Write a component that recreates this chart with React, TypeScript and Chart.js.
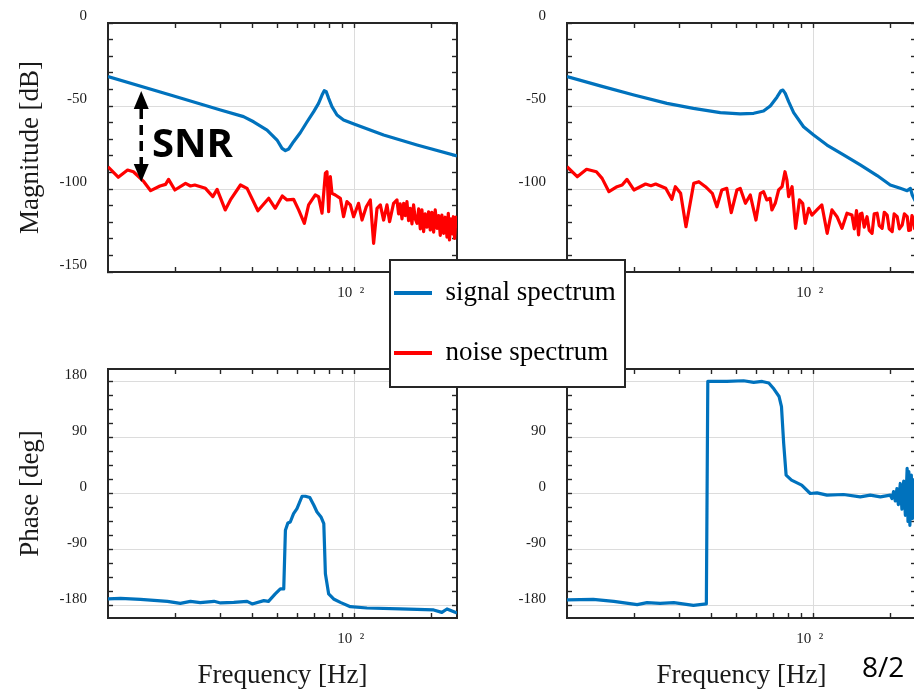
import React, { useEffect, useRef } from 'react';
import { Chart, registerables } from 'chart.js';

Chart.register(...registerables);

// ---------- axes ----------
const FREQ_MIN = 10.9;
const FREQ_MAX = 252;
const FREQ_TICKS = [20, 30, 40, 50, 60, 70, 80, 90, 100, 200];
const FREQ_GRID = [100];
const FREQ_LABEL_VALUES = [100];
const FREQ_LABEL_TEXT = ['10  \u00B2'];

const MAG_MIN = -150;
const MAG_MAX = 0;
const MAG_TICKS = [-150, -140, -130, -120, -110, -100, -90, -80, -70, -60, -50, -40, -30, -20, -10, 0];
const MAG_GRID = [-150, -100, -50, 0];
const MAG_LABEL_VALUES = [-150, -100, -50, 0];
const MAG_LABEL_TEXT = ['-150', '-100', '-50', '0'];

const PHASE_MIN = -200;
const PHASE_MAX = 200;
const PHASE_TICKS = [-180, -157.5, -135, -112.5, -90, -67.5, -45, -22.5, 0, 22.5, 45, 67.5, 90, 112.5, 135, 157.5, 180];
const PHASE_GRID = [-180, -90, 0, 90, 180];
const PHASE_LABEL_VALUES = [-180, -90, 0, 90, 180];
const PHASE_LABEL_TEXT = ['-180', '-90', '0', '90', '180'];

const SIGNAL_LABEL = 'signal spectrum';
const NOISE_LABEL = 'noise spectrum';

// ---------- data: left column ----------
const SIG_L_FREQ = [10.9, 19.7, 30.0, 36.9, 40.4, 45.6, 49.9, 52.2, 53.8, 55.4, 57.9, 61.5, 65.4, 69.4, 72.5, 74.8, 76.3, 77.7, 79.4, 81.8, 85.6, 90.8, 100.3, 130.2, 175.9, 252];
const SIG_L_DB = [-32.3, -44.0, -52.4, -56.4, -59.5, -64.5, -70.5, -75.5, -76.9, -75.9, -71.5, -66.1, -59.5, -53.4, -48.4, -43.4, -40.8, -41.4, -45.4, -50.4, -55.4, -58.4, -61.0, -67.5, -73.5, -80.1];

const NOISE_L_FREQ = [10.9, 11.95, 13.0, 13.7, 15.05, 16.0, 17.4, 18.3, 18.8, 19.9, 21.9, 22.9, 23.8, 26.2, 28.0, 29.1, 31.3, 32.8, 35.9, 38.1, 42.0, 46.3, 49.1, 52.3, 54.6, 57.9, 60.6, 63.8, 66.3, 70.4, 72.5, 74.8, 77.1, 78.2, 79.4, 80.6, 81.8, 84.3, 88.2, 90.8, 93.6, 96.5, 99.4, 103.9, 107.2, 111.4, 115.5, 119.0, 122.7, 126.4, 130.2, 134.2, 137.4, 142.4, 146.8, 149.0, 151.2, 153.6, 156.0, 158.2, 160.6, 163.0, 165.5, 168.0, 170.5, 173.1, 175.9, 178.5, 181.1, 183.8, 186.6, 189.4, 192.3, 195.2, 198.1, 201.0, 204.2, 207.2, 210.6, 213.7, 216.8, 220.0, 223.4, 226.7, 230.3, 233.0, 235.5, 238.5, 241.4, 244.0, 246.7, 249.5, 252];
const NOISE_L_DB = [-86.6, -92.9, -88.6, -89.6, -95.6, -101.0, -98.2, -97.2, -94.2, -100.6, -96.6, -98.2, -97.6, -99.6, -104.6, -100.2, -112.6, -106.6, -97.6, -99.6, -113.1, -105.6, -111.6, -104.2, -106.6, -106.2, -112.6, -120.7, -109.6, -103.6, -104.6, -114.6, -90.5, -89.6, -113.7, -92.6, -102.6, -103.6, -105.6, -116.7, -107.6, -109.6, -116.7, -108.6, -118.7, -110.7, -106.6, -132.7, -111.6, -109.6, -118.7, -109.6, -119.7, -108.6, -106.6, -115.0, -109.0, -118.0, -108.6, -116.0, -107.6, -119.0, -111.6, -121.0, -109.6, -118.0, -120.7, -112.0, -124.0, -112.6, -125.7, -115.0, -123.0, -113.7, -124.7, -114.0, -126.0, -112.6, -123.7, -116.0, -128.0, -115.7, -126.7, -117.0, -129.0, -114.6, -130.7, -118.0, -127.0, -116.7, -129.7, -117.0, -124.0];

const PHASE_L_FREQ = [10.9, 12.2, 14.6, 18.6, 20.9, 22.9, 25.0, 28.3, 30.0, 33.8, 38.1, 39.9, 44.3, 46.2, 49.1, 51.4, 53.0, 53.8, 55.0, 56.2, 57.9, 59.7, 62.5, 64.4, 67.0, 69.5, 71.5, 74.1, 76.0, 77.1, 79.4, 83.0, 88.2, 96.5, 112.1, 151.2, 204.2, 219.9, 230.3, 252];
const PHASE_L_DEG = [-169.4, -168.4, -170.0, -173.2, -176.5, -173.2, -175.3, -173.2, -175.8, -174.9, -173.2, -177.4, -172.1, -173.2, -161.3, -153.2, -153.2, -59.2, -47.4, -45.8, -32.3, -24.2, -4.4, -4.4, -6.5, -18.9, -29.7, -37.7, -48.4, -129.0, -161.3, -169.4, -174.9, -181.8, -183.9, -185.5, -187.1, -191.0, -185.5, -191.9];

// ---------- data: right column ----------
const SIG_R_FREQ = [10.9, 14.7, 19.9, 26.8, 34.0, 43.3, 51.8, 58.5, 63.9, 67.9, 72.1, 74.8, 76.1, 77.7, 80.1, 83.8, 91.6, 100.3, 113.1, 131.3, 152.6, 177.6, 199.9, 218.8, 232.7, 239.7, 243.6, 249.1, 252];
const SIG_R_DB = [-32.3, -37.9, -43.4, -48.4, -51.4, -54.0, -54.8, -54.4, -53.0, -50.0, -44.7, -40.8, -40.4, -42.4, -47.4, -54.0, -62.5, -67.5, -73.5, -79.5, -85.5, -91.9, -97.6, -99.6, -101.0, -99.6, -103.6, -106.6, -108];

const NOISE_R_FREQ = [10.9, 11.95, 13.0, 14.2, 14.95, 15.9, 17.1, 17.9, 18.7, 19.9, 22.1, 23.2, 24.2, 26.5, 28.0, 28.9, 30.3, 31.8, 34.1, 35.7, 37.9, 40.3, 42.0, 43.9, 45.9, 47.8, 50.3, 51.8, 54.3, 56.7, 59.7, 62.1, 63.9, 65.8, 67.8, 68.9, 71.0, 73.2, 75.5, 77.5, 78.9, 80.1, 82.6, 85.3, 88.3, 90.9, 93.0, 96.0, 98.8, 103.3, 108.0, 113.3, 118.3, 123.8, 129.5, 135.4, 141.6, 144.6, 147.5, 150.3, 152.6, 154.9, 158.2, 162.2, 165.5, 169.7, 173.0, 177.6, 181.0, 185.8, 189.4, 194.4, 198.0, 203.4, 207.0, 212.8, 217.0, 222.6, 227.0, 232.9, 236.0, 239.7, 243.0, 246.5, 249.0, 252];
const NOISE_R_DB = [-86.6, -92.6, -88.1, -89.6, -93.6, -101.6, -98.6, -97.6, -94.2, -100.6, -97.0, -98.0, -97.0, -99.6, -106.2, -98.6, -102.6, -122.7, -96.6, -95.6, -98.6, -102.6, -110.7, -100.6, -99.6, -114.3, -100.6, -99.6, -108.6, -103.6, -118.7, -102.6, -101.6, -106.6, -105.6, -112.6, -108.6, -100.6, -98.6, -89.6, -94.6, -104.6, -98.6, -123.7, -106.6, -108.6, -120.7, -111.6, -115.7, -112.6, -109.6, -126.7, -112.6, -116.7, -123.7, -114.6, -115.7, -124.0, -113.0, -127.7, -115.0, -114.6, -123.0, -116.7, -125.0, -126.7, -115.0, -114.6, -122.0, -123.7, -114.0, -115.7, -124.0, -125.7, -115.0, -116.7, -124.0, -121.7, -115.0, -116.7, -125.0, -124.7, -116.0, -118.7, -124.0, -120];

const PHASE_R_FREQ = [10.9, 13.8, 16.6, 20.5, 22.4, 25.2, 28.5, 34.0, 38.2, 38.7, 45.9, 53.4, 58.5, 63.1, 67.0, 70.2, 73.5, 75.1, 76.6, 78.3, 82.2, 90.1, 97.3, 103.4, 113.1, 131.3, 152.6, 167.0, 182.8, 199.9, 203.0, 206.0, 209.1, 212.3, 215.0, 218.8, 222.0, 225.6, 229.0, 232.7, 234.5, 236.3, 238.5, 241.6, 244.0, 246.1, 248.0, 250.0, 252];
const PHASE_R_DEG = [-171.0, -170.0, -173.2, -178.6, -175.3, -176.5, -175.3, -179.7, -177.4, 180.0, 180.0, 181.1, 178.4, 180.0, 177.4, 167.8, 155.8, 139.7, 80.7, 29.5, 21.5, 13.4, 0, 1.0, -2.7, -1.6, -5.5, -2.7, -5.5, -2.7, -8.0, 3.0, -12.0, 8.0, -18.0, 16.1, -25.0, 20.0, -35.0, 40.3, -45.0, 35.0, -51.1, 29.5, -40.0, 22.0, -30.0, 18.0, -20.0];

// ---------- annotation ----------
const SNR_TEXT = 'SNR';
const SNR_ARROW_FREQ = 14.7;
const SNR_ARROW_TOP_DB = -41;
const SNR_ARROW_BOTTOM_DB = -95.8;
const SNR_TEXT_FREQ = 16.2;
const SNR_TEXT_DB = -80.7;
const PAGE_TEXT = '8/2';

// ---------- styles ----------
const BLUE = '#0072BD';
const RED = '#FF0000';
const AXIS_COLOR = '#262626';
const GRID_COLOR = '#dcdcdc';
const TEXT_COLOR = '#1a1a1a';
const SERIF = '"Liberation Serif", "Times New Roman", serif';

type Series = { label: string; freq: number[]; values: number[]; color: string };
type PanelSpec = {
  series: Series[];
  kind: 'mag' | 'phase';
  yTitle?: string;
  xTitle?: string;
  padTop: number;
  xHeight: number;
  plugins?: any[];
};

const noPad = (s: any) => {
  s.paddingLeft = 0;
  s.paddingRight = 0;
  s.paddingTop = 0;
  s.paddingBottom = 0;
};

function gridFor(values: number[], onArea: boolean) {
  return {
    display: true,
    drawOnChartArea: onArea,
    drawTicks: true,
    color: (c: any) => (c.tick && values.includes(c.tick.value) ? GRID_COLOR : 'rgba(0,0,0,0)'),
    lineWidth: 1,
    tickColor: AXIS_COLOR,
    tickLength: -5,
    tickWidth: 1.4,
  };
}

function makePanel(spec: PanelSpec) {
  const isMag = spec.kind === 'mag';
  const yTicks = isMag ? MAG_TICKS : PHASE_TICKS;
  const yGrid = isMag ? MAG_GRID : PHASE_GRID;
  const yLabelValues = isMag ? MAG_LABEL_VALUES : PHASE_LABEL_VALUES;
  const yLabelText = isMag ? MAG_LABEL_TEXT : PHASE_LABEL_TEXT;
  const yMin = isMag ? MAG_MIN : PHASE_MIN;
  const yMax = isMag ? MAG_MAX : PHASE_MAX;
  const border = { display: true, color: AXIS_COLOR, width: 2 };
  const tickFont = { family: SERIF, size: 15 };
  const titleFont = { family: SERIF, size: 27, lineHeight: 1 };
  const freqTicks = (s: any) => {
    s.ticks = FREQ_TICKS.map((value) => ({ value }));
  };
  const valueTicks = (s: any) => {
    s.ticks = yTicks.map((value) => ({ value }));
  };
  return {
    type: 'line',
    data: {
      datasets: spec.series.map((s) => ({
        label: s.label,
        data: s.freq.map((f, i) => ({ x: f, y: s.values[i] })),
        borderColor: s.color,
        backgroundColor: s.color,
        borderWidth: 3.2,
        pointRadius: 0,
        tension: 0,
        fill: false,
        borderJoinStyle: 'round',
        xAxisID: 'x',
        yAxisID: 'y',
      })),
    },
    options: {
      responsive: false,
      animation: false,
      devicePixelRatio: 1,
      events: [],
      layout: { padding: { left: 0, top: spec.padTop, right: 3, bottom: 0 } },
      plugins: { legend: { display: false }, tooltip: { enabled: false } },
      scales: {
        x: {
          type: 'logarithmic',
          axis: 'x',
          position: 'bottom',
          min: FREQ_MIN,
          max: FREQ_MAX,
          afterBuildTicks: freqTicks,
          afterFit: (s: any) => {
            s.height = spec.xHeight;
            noPad(s);
          },
          grid: gridFor(FREQ_GRID, true),
          border,
          ticks: {
            autoSkip: false,
            maxRotation: 0,
            minRotation: 0,
            padding: 17,
            labelOffset: -3.5,
            color: TEXT_COLOR,
            font: tickFont,
            callback: (v: any) => {
              const k = FREQ_LABEL_VALUES.indexOf(Number(v));
              return k >= 0 ? FREQ_LABEL_TEXT[k] : '';
            },
          },
          title: {
            display: !!spec.xTitle,
            text: spec.xTitle || '',
            color: TEXT_COLOR,
            font: titleFont,
            padding: { top: 0, bottom: 1 },
          },
        },
        x2: {
          type: 'logarithmic',
          axis: 'x',
          position: 'top',
          min: FREQ_MIN,
          max: FREQ_MAX,
          afterBuildTicks: freqTicks,
          afterFit: (s: any) => {
            s.height = 0;
            noPad(s);
          },
          grid: gridFor(FREQ_GRID, false),
          border,
          ticks: { display: false },
        },
        y: {
          type: 'linear',
          axis: 'y',
          position: 'left',
          min: yMin,
          max: yMax,
          afterBuildTicks: valueTicks,
          afterFit: (s: any) => {
            s.width = 108;
            noPad(s);
          },
          grid: gridFor(yGrid, true),
          border,
          ticks: {
            autoSkip: false,
            padding: 26,
            labelOffset: -6.5,
            color: TEXT_COLOR,
            font: tickFont,
            callback: (v: any) => {
              const k = yLabelValues.indexOf(Number(v));
              return k >= 0 ? yLabelText[k] : '';
            },
          },
          title: {
            display: !!spec.yTitle,
            text: spec.yTitle || '',
            color: TEXT_COLOR,
            font: titleFont,
            padding: { top: 17, bottom: 0 },
          },
        },
        y2: {
          type: 'linear',
          axis: 'y',
          position: 'right',
          min: yMin,
          max: yMax,
          afterBuildTicks: valueTicks,
          afterFit: (s: any) => {
            s.width = 0;
            noPad(s);
          },
          grid: gridFor(yGrid, false),
          border,
          ticks: { display: false },
        },
      },
    },
    plugins: spec.plugins || [],
  };
}

const snrPlugin = {
  id: 'snrAnnotation',
  afterDatasetsDraw(chart: any) {
    const { ctx, scales } = chart;
    const x = scales.x.getPixelForValue(SNR_ARROW_FREQ);
    const yTop = scales.y.getPixelForValue(SNR_ARROW_TOP_DB);
    const yBot = scales.y.getPixelForValue(SNR_ARROW_BOTTOM_DB);
    const head = 18;
    const half = 7.5;
    ctx.save();
    ctx.fillStyle = '#000';
    ctx.strokeStyle = '#000';
    ctx.beginPath();
    ctx.moveTo(x, yTop);
    ctx.lineTo(x - half, yTop + head);
    ctx.lineTo(x + half, yTop + head);
    ctx.closePath();
    ctx.fill();
    ctx.beginPath();
    ctx.moveTo(x, yBot);
    ctx.lineTo(x - half, yBot - head);
    ctx.lineTo(x + half, yBot - head);
    ctx.closePath();
    ctx.fill();
    ctx.lineWidth = 3.5;
    ctx.setLineDash([10, 6]);
    ctx.beginPath();
    ctx.moveTo(x, yTop + head);
    ctx.lineTo(x, yBot - head);
    ctx.stroke();
    ctx.setLineDash([]);
    ctx.font = 'bold 40px "Open Sans", sans-serif';
    ctx.textAlign = 'left';
    ctx.textBaseline = 'alphabetic';
    ctx.fillText(SNR_TEXT, scales.x.getPixelForValue(SNR_TEXT_FREQ), scales.y.getPixelForValue(SNR_TEXT_DB));
    ctx.restore();
  },
};

const buildTopLeft = () =>
  makePanel({
    series: [
      { label: SIGNAL_LABEL, freq: SIG_L_FREQ, values: SIG_L_DB, color: BLUE },
      { label: NOISE_LABEL, freq: NOISE_L_FREQ, values: NOISE_L_DB, color: RED },
    ],
    kind: 'mag',
    yTitle: 'Magnitude [dB]',
    padTop: 23,
    xHeight: 28,
    plugins: [snrPlugin],
  });

const buildTopRight = () =>
  makePanel({
    series: [
      { label: SIGNAL_LABEL, freq: SIG_R_FREQ, values: SIG_R_DB, color: BLUE },
      { label: NOISE_LABEL, freq: NOISE_R_FREQ, values: NOISE_R_DB, color: RED },
    ],
    kind: 'mag',
    padTop: 23,
    xHeight: 28,
  });

const buildBottomLeft = () =>
  makePanel({
    series: [{ label: SIGNAL_LABEL, freq: PHASE_L_FREQ, values: PHASE_L_DEG, color: BLUE }],
    kind: 'phase',
    yTitle: 'Phase [deg]',
    xTitle: 'Frequency [Hz]',
    padTop: 29,
    xHeight: 72,
  });

const buildBottomRight = () =>
  makePanel({
    series: [{ label: SIGNAL_LABEL, freq: PHASE_R_FREQ, values: PHASE_R_DEG, color: BLUE }],
    kind: 'phase',
    xTitle: 'Frequency [Hz]',
    padTop: 29,
    xHeight: 72,
  });

const buildLegend = () => ({
  type: 'line',
  data: {
    datasets: [
      { label: SIGNAL_LABEL, data: [], borderColor: BLUE, backgroundColor: BLUE, borderWidth: 0 },
      { label: NOISE_LABEL, data: [], borderColor: RED, backgroundColor: RED, borderWidth: 0 },
    ],
  },
  options: {
    responsive: false,
    animation: false,
    devicePixelRatio: 1,
    events: [],
    layout: { padding: 0 },
    scales: { x: { display: false }, y: { display: false } },
    plugins: {
      tooltip: { enabled: false },
      legend: {
        display: true,
        position: 'left',
        align: 'center',
        labels: {
          boxWidth: 38,
          boxHeight: 4,
          padding: 33,
          color: '#000',
          font: { family: SERIF, size: 27 },
        },
      },
    },
  },
});

function ChartCanvas({ left, top, width, height, build }: any) {
  const ref = useRef<HTMLCanvasElement>(null);
  useEffect(() => {
    if (!ref.current) return;
    const chart = new Chart(ref.current, build() as any);
    return () => chart.destroy();
  }, [build]);
  return (
    <canvas
      ref={ref}
      width={width}
      height={height}
      style={{ position: 'absolute', left, top, width, height }}
    />
  );
}

export default function App() {
  return (
    <div
      style={{
        position: 'absolute',
        left: 0,
        top: 0,
        width: 914,
        height: 690,
        overflow: 'hidden',
        background: '#fff',
      }}
    >
      <ChartCanvas left={0} top={0} width={460} height={300} build={buildTopLeft} />
      <ChartCanvas left={459} top={0} width={460} height={300} build={buildTopRight} />
      <ChartCanvas left={0} top={340} width={460} height={350} build={buildBottomLeft} />
      <ChartCanvas left={459} top={340} width={460} height={350} build={buildBottomRight} />
      <div
        style={{
          position: 'absolute',
          left: 389,
          top: 259,
          width: 237,
          height: 129,
          boxSizing: 'border-box',
          border: '2px solid #262626',
          background: '#fff',
          overflow: 'hidden',
          zIndex: 5,
        }}
      >
        <ChartCanvas left={-30} top={-23} width={600} height={170} build={buildLegend} />
      </div>
      <div
        style={{
          position: 'absolute',
          left: 862,
          top: 652,
          fontFamily: '"Open Sans", sans-serif',
          fontSize: 28,
          lineHeight: '28px',
          color: '#000',
          whiteSpace: 'nowrap',
        }}
      >
        {PAGE_TEXT}
      </div>
    </div>
  );
}
